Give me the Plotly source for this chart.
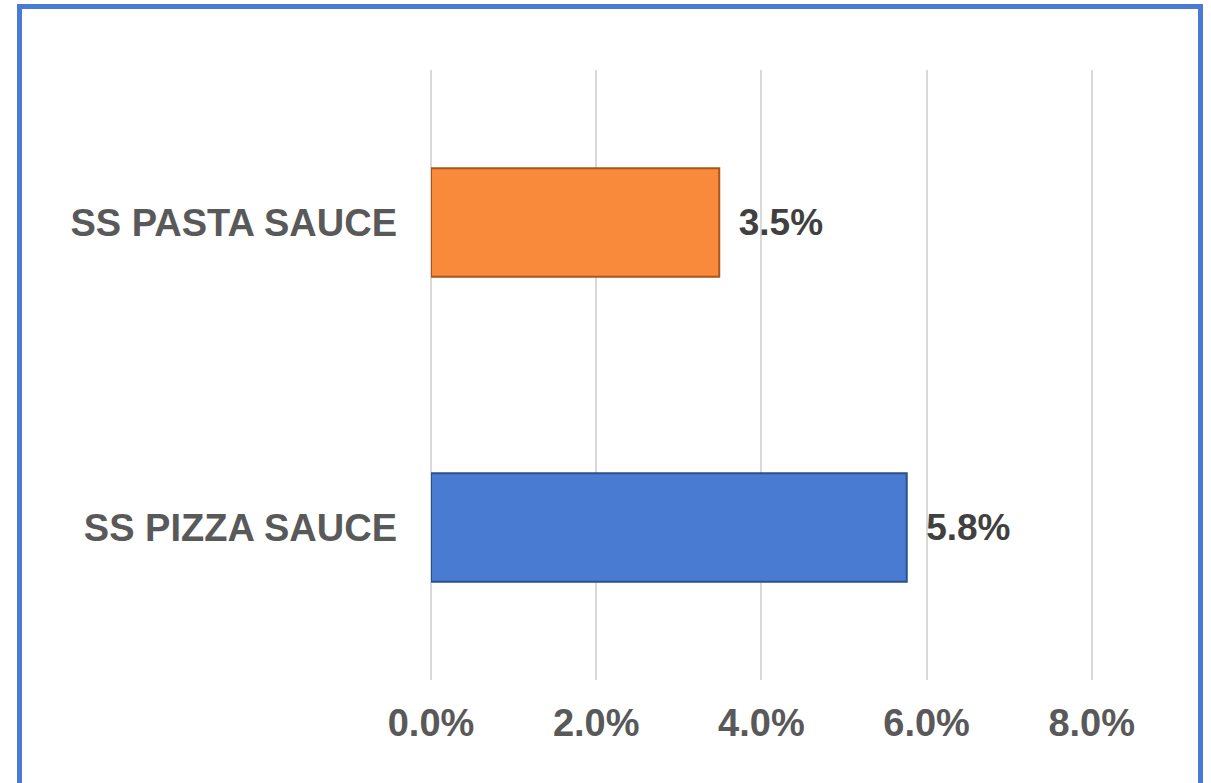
import plotly.graph_objects as go

categories = ["SS PIZZA SAUCE", "SS PASTA SAUCE"]
values = [0.0576, 0.0349]
bar_colors = ["#4A7BD2", "#F98A3C"]
edge_colors = ["#2B4F8F", "#A8561C"]
tick_vals = [0, 0.02, 0.04, 0.06, 0.08]
tick_text = ["0.0%", "2.0%", "4.0%", "6.0%", "8.0%"]

FONT = "Arial, Liberation Sans, sans-serif"

fig = go.Figure()
fig.add_trace(go.Bar(
    y=categories, x=values, orientation="h",
    marker=dict(color=bar_colors, line=dict(color=edge_colors, width=2)),
    text=[f"\u00a0\u2006{v*100:.1f}%" for v in values],
    textposition="outside",
    textfont=dict(family=FONT, size=37, color="#404040", weight="bold"),
    cliponaxis=False,
    width=0.355,
))

XMAX = 0.081
W, H = 1211, 783
L, T, B = 431, 70, 103
pw = round(661 * XMAX / 0.08)
R = W - L - pw
ph = H - T - B

def px(x):
    return (x - L) / pw

def py(y):
    return (H - B - y) / ph

fig.add_shape(type="rect", xref="paper", yref="paper",
              x0=px(19.5), x1=px(1200.5), y0=py(820), y1=py(6.5),
              line=dict(color="#4A7BD4", width=5), layer="below")

fig.update_layout(
    width=W, height=H,
    margin=dict(l=L, r=R, t=T, b=B),
    plot_bgcolor="white", paper_bgcolor="white",
    showlegend=False,
    bargap=0.645,
    xaxis=dict(range=[0, XMAX], tickvals=tick_vals, ticktext=tick_text,
               showgrid=True, gridcolor="#D9D9D9", gridwidth=2,
               zeroline=True, zerolinecolor="#D9D9D9", zerolinewidth=2,
               showline=False, ticks="",
               ticklabelstandoff=17,
               tickfont=dict(family=FONT, size=38, color="#595959", weight="bold")),
    yaxis=dict(showgrid=False, zeroline=False, showline=False, ticks="",
               ticklabelstandoff=33,
               tickfont=dict(family=FONT, size=38, color="#595959", weight="bold")),
)

fig.write_html("out.html", config={"displayModeBar": False},
               post_script="document.body.style.margin='0';document.body.style.overflow='hidden';")
